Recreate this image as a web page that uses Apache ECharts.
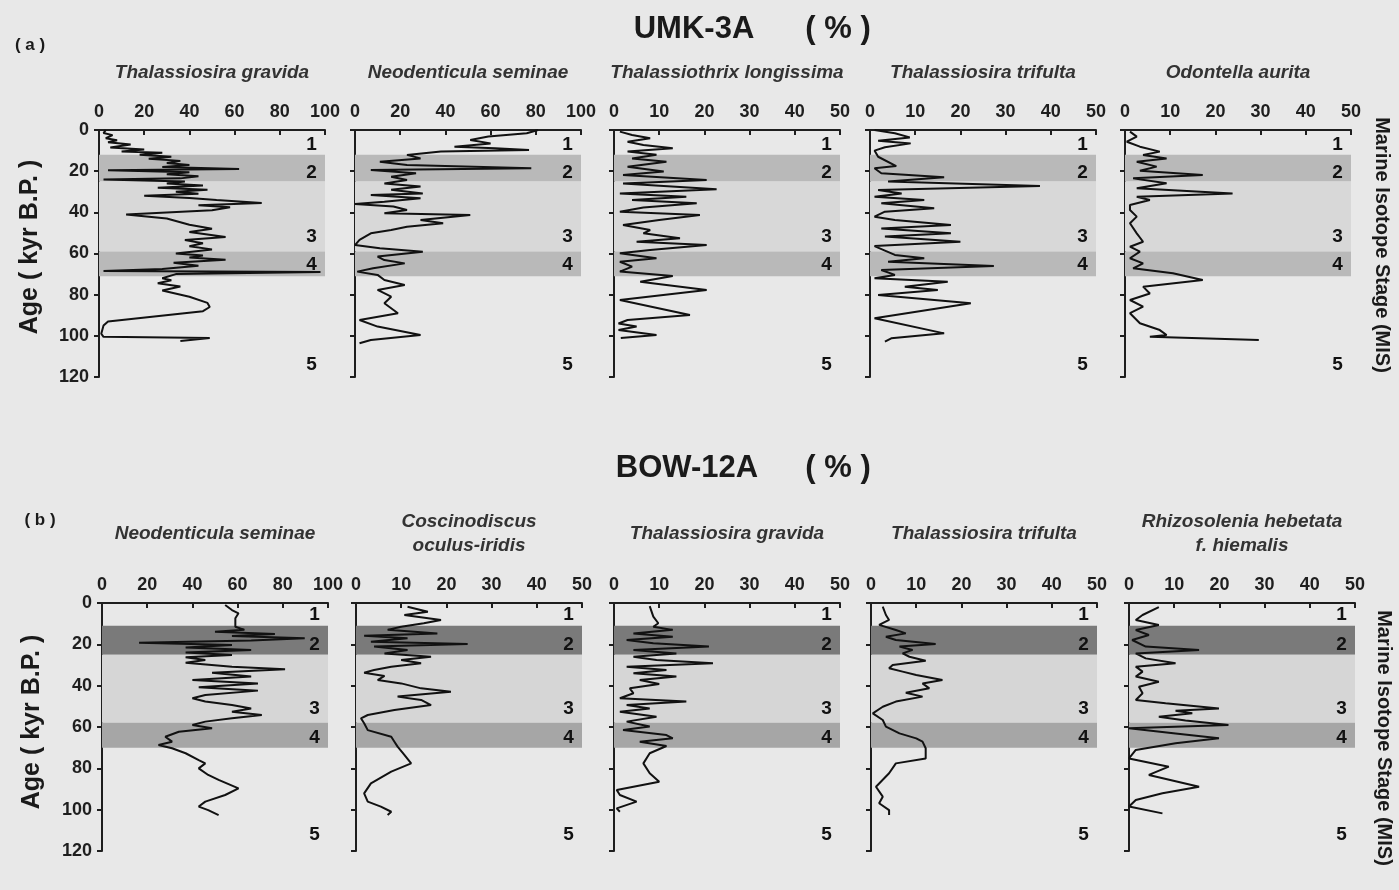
<!DOCTYPE html>
<html><head><meta charset="utf-8">
<script src="https://cdn.jsdelivr.net/npm/echarts@6/dist/echarts.min.js"></script>
<style>html,body{margin:0;padding:0;background:#e8e8e8}#c{width:1399px;height:890px}</style>
</head><body><div id="c"></div>
<script>
// ---------- DATA ----------
const ageTicks = [0, 20, 40, 60, 80, 100, 120];
const stageNames = ['1', '2', '3', '4', '5'];
const stageAgesA = [7, 21, 52, 65.5, 114];
const stageAgesB = [5.5, 20, 51, 65, 112];
const bandsA = [[12, 25], [25, 59], [59, 71]];
const bandsB = [[11, 25], [25, 58], [58, 70]];

const titlesA = ['Thalassiosira gravida', 'Neodenticula seminae', 'Thalassiothrix longissima', 'Thalassiosira trifulta', 'Odontella aurita'];
const titlesB = ['Neodenticula seminae', 'Coscinodiscus\noculus-iridis', 'Thalassiosira gravida', 'Thalassiosira trifulta', 'Rhizosolenia hebetata\nf. hiemalis'];
const maxA = [100, 100, 50, 50, 50];
const maxB = [100, 50, 50, 50, 50];

// [percent, age kyr]
const umkGravida = [[3,0],[2,1.5],[6,2.5],[3,4],[8,5],[4,6],[14,7],[5,8.5],[20,9.5],[10,10.5],[28,11],[18,12],[32,13],[22,14],[36,15],[30,16],[40,17],[28,18],[62,19],[4,19.5],[40,20.5],[30,21.5],[44,22.5],[36,23.5],[2,24],[38,25],[30,26],[46,27],[26,28],[48,29],[34,30],[44,31],[20,32],[40,33],[52,34],[72,35.5],[44,36.5],[58,37.5],[50,39],[12,41],[30,43],[40,46],[50,48],[40,49.5],[56,52],[38,53.5],[46,55],[40,56.5],[50,58],[34,60],[46,61],[40,62],[56,63],[33,64.5],[44,66],[28,67.5],[2,68.5],[98,69],[34,70],[28,72],[32,73],[26,74.5],[36,76],[28,78],[40,81],[48,84],[49,86],[46,88],[4,93],[2,95],[1,99],[2,100.5],[49,101],[36,102.5]];
const umkNeo = [[81,0],[76,1.6],[59,3.2],[51,4.9],[60,6.5],[44,8.1],[62,8.9],[77,9.7],[38,10.5],[23,12.1],[29,13.8],[11,15.4],[23,17],[78,18.6],[7,19.4],[27,21],[16,22.7],[23,24.3],[13,26],[29,27.5],[16,29],[30,30.8],[7,31.6],[29,33.2],[13,34.8],[0,36],[17,37.2],[23,38.9],[13,40.5],[51,41.3],[29,43.7],[39,45.3],[23,47],[16,48.6],[7,50.2],[2,53.4],[0,55.9],[11,57.5],[30,59.1],[10,61.5],[13,63.2],[22,64.8],[8,67.2],[1,68.8],[10,70.4],[13,72.9],[22,75.3],[10,77.7],[16,81],[13,84.2],[19,89],[2,92.3],[10,95.5],[29,99.6],[7,102],[2,103.6]];
const umkThalLong = [[1.3,0.8],[4,2.4],[8,4],[3,5.7],[6.5,7.3],[13,8.9],[3,10.5],[9.4,12],[4,13.8],[11.6,15.4],[3,17.8],[11,20.2],[2,21.9],[20.5,24.3],[2,26],[22.7,28.8],[1.3,30.8],[16,32.4],[4,34],[18.3,35.6],[6.5,37.6],[1.3,39.7],[19,41.3],[10,43.7],[2,46.2],[8,48.6],[6.5,50.2],[14.6,52.6],[5,54.3],[20.5,55.9],[8,58.3],[1.3,59.9],[9.4,62.3],[1.3,64],[4,66.4],[1.3,68.8],[13,70.9],[5.8,73.7],[20.5,77.7],[1.3,82.6],[16.8,89.9],[3,92.3],[1,94],[5,95.5],[1,97.2],[9.4,99.6],[1.5,101]];
const umkTrifulta = [[1,0],[5.5,1.6],[8.8,3.6],[1.8,5.2],[9,6.5],[3.3,8.4],[1,10],[1.8,13],[5.8,17.5],[1,18.6],[2.5,21],[16.4,23],[4,25],[37.6,27.2],[1.8,29.1],[7,30.8],[1,32.4],[12,34],[2.5,35.6],[14.2,38],[3.3,39.7],[1,42.1],[5.5,43.7],[17.9,46.2],[2.5,47.8],[17.9,50.2],[3.3,51.8],[20,54.3],[1,56.4],[3.3,58.6],[5.5,60.7],[12,62.3],[4,64],[27.4,66.1],[2.5,68],[5.5,70.4],[1,72],[17.2,73.7],[7.7,76.1],[15,77.7],[1.8,80.2],[22.3,84.2],[1,91.5],[16.4,98.8],[4.7,101.2],[3.3,102.8]];
const umkOdontella = [[1.1,0.8],[2.6,3.2],[0.4,5.7],[3.3,8.1],[7.7,10.5],[4,12.1],[9.2,13.8],[2.6,15.4],[7,17.8],[3.3,19.8],[17.2,21.9],[1.8,23.5],[9.2,25.9],[2.6,28.3],[23.8,30.8],[2.6,32.4],[5.5,34],[1.1,36.4],[1.1,38.9],[2.6,42.1],[1.1,45.3],[2.6,50.2],[4,54.3],[1.1,56.7],[3.3,59.1],[1.1,62.3],[4,64.8],[1.8,67.2],[10.6,69.6],[17.2,72.9],[4,76.1],[5.5,79.4],[1.1,82.6],[4,85.8],[1.1,89],[3.3,93.9],[7.7,97.2],[9.2,99.6],[5.5,100.4],[29.6,102]];

const bowNeo = [[54.5,1],[57.5,3.4],[60.4,5],[59,7.4],[59,11.5],[63,13],[50,13.9],[76.5,15],[57.5,16],[89.7,17.1],[66,18.2],[16.4,19.2],[57.5,20.3],[37,21.5],[66,22.7],[37,24],[57.5,25.2],[37,26.3],[45.7,27.6],[37,28.9],[57.5,30.8],[81,32],[48.7,33.7],[66,35.6],[40,37.3],[69,38.9],[42.8,40.8],[69,42.4],[45.7,44.5],[40,46.1],[45.7,47.7],[57.5,49.4],[66,51],[57.5,52.6],[70.7,54.2],[57.5,55.8],[45.7,57.4],[40,59],[48.7,60.6],[34,62.3],[28,64.7],[31,67.1],[25,68.7],[31,70.3],[37,72.7],[42.8,76],[45.7,77.6],[42.8,80],[47,83.2],[51.6,85.6],[60.4,89.7],[54.5,92.9],[45.7,96.1],[42.8,98.5],[47,100.2],[51.6,102.6]];
const bowCosc = [[11.4,1.8],[15.9,4.2],[10.7,5.8],[18.8,8.2],[15,9.8],[10,11.5],[7,13],[18,14.7],[1.8,15.8],[11.4,17.1],[3.3,18.7],[24.7,19.8],[4,21.1],[11.4,22.7],[6.3,24.4],[16.6,26],[10,27.6],[14.4,29.2],[7.8,30.8],[4,32.4],[1.8,33.7],[6.3,35.3],[4.8,37.3],[10,38.9],[14.4,41.3],[21,42.9],[9.2,45.3],[14.4,46.9],[16.6,49.4],[8.5,51.8],[2.6,54.2],[1.1,55.8],[1.8,58.2],[2.6,61.5],[7.8,64.7],[8.5,67.1],[9.2,69.5],[10.7,73.5],[12.2,77.6],[7.8,81.6],[3.3,87.3],[1.8,92.1],[2.6,96.1],[5.5,98.5],[7.8,101],[7,102.6]];
const bowGravida = [[7.9,1.5],[8.7,6.6],[9.8,9.8],[8.7,11.5],[13,13],[4.3,14.7],[13,16.3],[2.8,17.9],[8.7,19.5],[21,21.1],[4.3,22.7],[13.8,24.4],[4.3,26],[9.4,27.6],[21.9,29.2],[2.8,30.8],[11.6,32.4],[4.3,34],[13.8,35.6],[5.7,37.3],[10,39.2],[3.5,41.3],[4.3,43.7],[1.3,46.1],[16,47.7],[2.8,49.4],[7.9,51],[1.3,52.6],[9.4,55],[2.8,57.4],[7.9,59.8],[2,61.5],[11.6,63.9],[13,65.5],[5.7,67.1],[11.6,69.2],[7.9,72.7],[6.5,77.6],[7.9,82.4],[10,86.5],[0.6,90.5],[1.3,92.9],[5,96.1],[0.6,99.4],[1.3,101]];
const bowTrifulta = [[2.6,1.8],[3.3,5.8],[4,8.2],[1.8,10.6],[5.5,13.1],[7.7,14.7],[3.3,16.3],[5.5,17.9],[14.3,19.8],[6.3,21.1],[9.2,22.7],[7,24.4],[8.5,26],[12.1,27.9],[4.8,30],[4,31.6],[7,33.2],[10,34.8],[15.8,37.3],[11.4,38.9],[12.9,41.3],[7.7,43.4],[11.4,45.3],[5.5,47.7],[2.6,50.2],[0.4,53.4],[2.6,56.6],[3.3,59.8],[6.3,63.1],[10,65.5],[11.4,67.1],[12.1,70.3],[12.1,75.2],[5.5,77.6],[4,82.4],[1.1,88.9],[2.6,93.7],[1.8,96.9],[4,100.2],[4,102.6]];
const bowRhizo = [[6.6,2],[3,5.8],[1.5,8.2],[6.6,10.6],[1.5,13.1],[4.4,15.5],[0.7,17.9],[3.7,21.1],[15.5,22.7],[1.5,24.4],[3.7,26.8],[10.3,29.2],[1.5,30.8],[3,33.2],[1.5,35.6],[6.6,38.1],[2.2,40.5],[3,43.7],[1.5,46.9],[8.1,48.5],[19.9,51],[10.3,52.1],[14,53.4],[6.6,55],[12.5,56.9],[22,59],[0,60.6],[10.3,63.1],[19.9,65.5],[10.3,67.9],[1.5,71.1],[0,75.2],[8.8,79.2],[4.4,83.2],[15.5,88.9],[7.4,92.1],[1.5,95.3],[0,98.5],[7.4,101.8]];

const dataA = [umkGravida, umkNeo, umkThalLong, umkTrifulta, umkOdontella];
const dataB = [bowNeo, bowCosc, bowGravida, bowTrifulta, bowRhizo];

// ---------- LAYOUT / STYLE ----------
const FONT = '"Liberation Sans", Arial, sans-serif';
const INK = '#1e1e1e';
const bandColorsA = ['#b9b9b9', '#d8d8d8', '#b9b9b9'];
const bandColorsB = ['#7a7a7a', '#d6d6d6', '#a6a6a6'];
const rows = [
  { lefts: [99, 355, 614, 870, 1125], top: 130, height: 247, titles: titlesA, maxes: maxA, data: dataA, bands: bandsA, bandColors: bandColorsA, stageAges: stageAgesA },
  { lefts: [102, 356, 614, 871, 1129], top: 603, height: 248, titles: titlesB, maxes: maxB, data: dataB, bands: bandsB, bandColors: bandColorsB, stageAges: stageAgesB }
];
const W = 226;

const grid = [], xAxis = [], yAxis = [], series = [], graphic = [];
let gi = 0;
rows.forEach((row, r) => {
  row.lefts.forEach((left, c) => {
    const max = row.maxes[c];
    grid.push({ left: left, top: row.top, width: W, height: row.height, containLabel: false });
    xAxis.push({
      type: 'value', gridIndex: gi, position: 'top', min: 0, max: max, interval: max / 5,
      axisLine: { show: true, onZero: false, lineStyle: { color: INK, width: 2 } },
      axisTick: { show: true, inside: true, length: 5, lineStyle: { color: INK, width: 2 } },
      axisLabel: { show: true, margin: 9, color: INK, fontSize: 18, fontWeight: 'bold', fontFamily: FONT, showMinLabel: true, showMaxLabel: true, hideOverlap: false },
      splitLine: { show: false }
    });
    yAxis.push({
      type: 'value', gridIndex: gi, inverse: true, min: ageTicks[0], max: ageTicks[ageTicks.length - 1], interval: 20,
      axisLine: { show: true, onZero: false, lineStyle: { color: INK, width: 2 } },
      axisTick: { show: true, inside: false, length: 5, lineStyle: { color: INK, width: 2 } },
      axisLabel: { show: c === 0, margin: 10, color: INK, fontSize: 18, fontWeight: 'bold', fontFamily: FONT },
      splitLine: { show: false }
    });
    series.push({
      type: 'line', xAxisIndex: gi, yAxisIndex: gi, data: row.data[c], showSymbol: false, symbol: 'none',
      lineStyle: { color: '#111', width: 2 }, z: 5, animation: false,
      markArea: {
        silent: true,
        data: row.bands.map((b, k) => [
          { xAxis: 0, yAxis: b[0], itemStyle: { color: row.bandColors[k] } },
          { xAxis: max, yAxis: b[1] }
        ])
      }
    });
    series.push({
      type: 'scatter', xAxisIndex: gi, yAxisIndex: gi, symbolSize: 0, z: 6, animation: false, silent: true,
      itemStyle: { color: '#111', opacity: 1 },
      data: stageNames.map((s, k) => [max * 0.94, row.stageAges[k], s]),
      label: { show: true, position: 'inside', formatter: p => p.data[2], color: '#111', opacity: 1, fontSize: 19, fontWeight: 'bold', fontFamily: FONT }
    });
    graphic.push({
      type: 'text', x: left + W / 2, y: r === 0 ? 73 : 534,
      style: { text: row.titles[c], font: 'italic bold 19px ' + FONT, fill: '#333', textAlign: 'center', textVerticalAlign: 'middle', align: 'center', verticalAlign: 'middle', lineHeight: 24 }
    });
    gi++;
  });
});

const mid = { textAlign: 'center', textVerticalAlign: 'middle', align: 'center', verticalAlign: 'middle', fill: '#1a1a1a' };
graphic.push(
  { type: 'text', x: 694, y: 29, style: Object.assign({ text: 'UMK-3A', font: 'bold 31px ' + FONT }, mid) },
  { type: 'text', x: 838, y: 29, style: Object.assign({ text: '( % )', font: 'bold 31px ' + FONT }, mid) },
  { type: 'text', x: 687, y: 468, style: Object.assign({ text: 'BOW-12A', font: 'bold 31px ' + FONT }, mid) },
  { type: 'text', x: 838, y: 468, style: Object.assign({ text: '( % )', font: 'bold 31px ' + FONT }, mid) },
  { type: 'text', x: 30, y: 45, style: Object.assign({ text: '( a )', font: 'bold 17px ' + FONT }, mid) },
  { type: 'text', x: 40, y: 520, style: Object.assign({ text: '( b )', font: 'bold 17px ' + FONT }, mid) },
  { type: 'text', x: 30, y: 247, rotation: Math.PI / 2, style: Object.assign({ text: 'Age ( kyr B.P. )', font: 'bold 25px ' + FONT }, mid) },
  { type: 'text', x: 32, y: 722, rotation: Math.PI / 2, style: Object.assign({ text: 'Age ( kyr B.P. )', font: 'bold 25px ' + FONT }, mid) },
  { type: 'text', x: 1382, y: 245, rotation: -Math.PI / 2, style: Object.assign({ text: 'Marine Isotope Stage (MIS)', font: 'bold 20px ' + FONT }, mid) },
  { type: 'text', x: 1384, y: 738, rotation: -Math.PI / 2, style: Object.assign({ text: 'Marine Isotope Stage (MIS)', font: 'bold 20px ' + FONT }, mid) }
);

const chart = echarts.init(document.getElementById('c'), null, { renderer: 'canvas' });
chart.setOption({
  backgroundColor: '#e8e8e8',
  animation: false,
  grid, xAxis, yAxis, series, graphic
});
</script></body></html>
